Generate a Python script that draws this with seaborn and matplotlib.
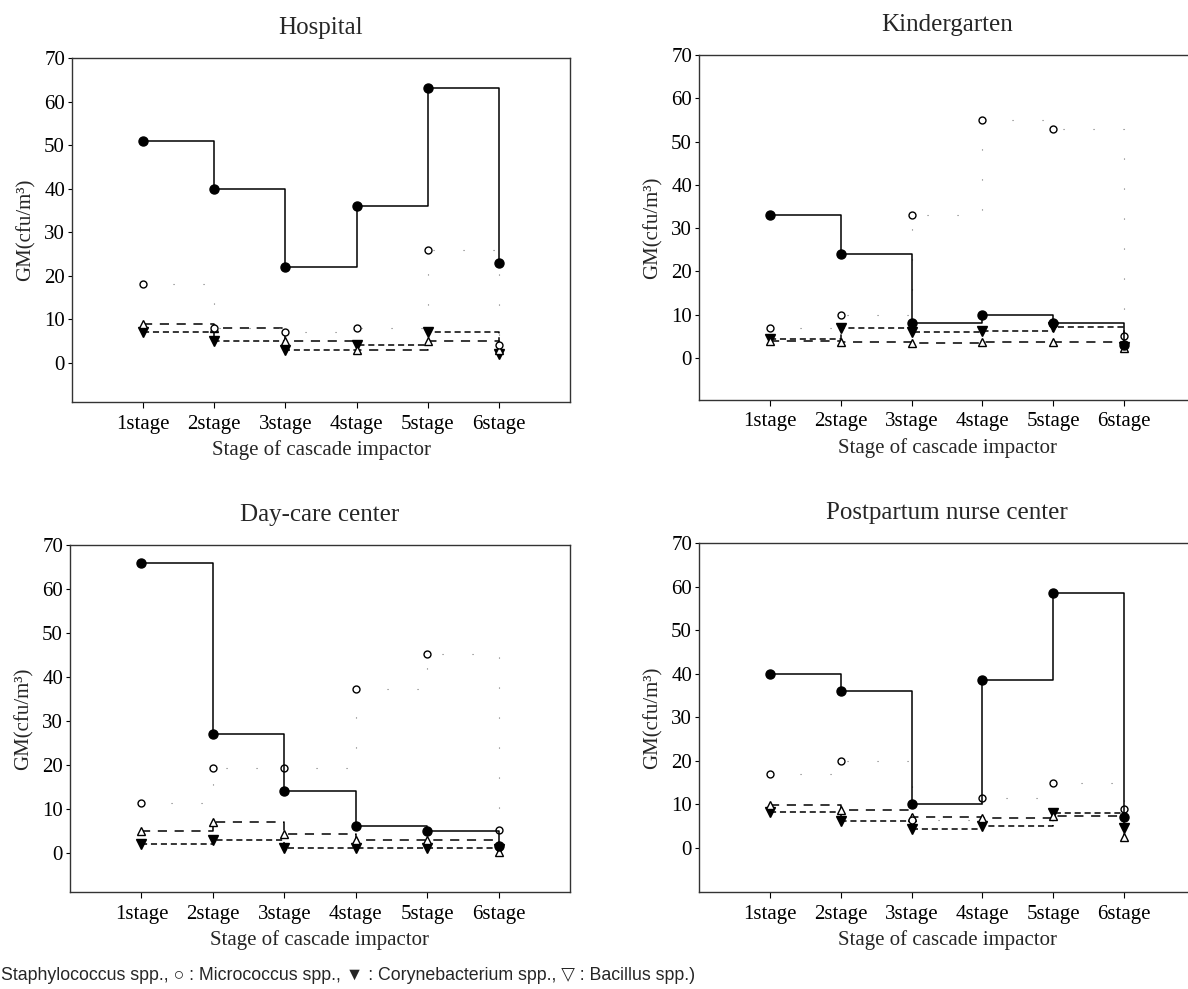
import pandas as pd
import matplotlib
matplotlib.use('Agg')
import matplotlib.pyplot as plt
import seaborn as sns

# stages of the cascade impactor
stages = [1, 2, 3, 4, 5, 6]
stage_labels = ['1stage', '2stage', '3stage', '4stage', '5stage', '6stage']
y_ticks = [0, 10, 20, 30, 40, 50, 60, 70]

panel_titles = ['Hospital', 'Kindergarten', 'Day-care center', 'Postpartum nurse center']
species = ['Staphylococcus', 'Micrococcus', 'Corynebacterium', 'Bacillus']

# GM (cfu/m3)
hospital_staph = [51, 40, 22, 36, 63, 23]
hospital_micro = [18, 8, 7, 8, 26, 4]
hospital_coryn = [7, 5, 3, 4, 7, 2]
hospital_bacil = [9, 8, 5, 3, 5, 3]

kinder_staph = [33, 24, 8, 10, 8, 3]
kinder_micro = [7, 10, 33, 55, 53, 5]
kinder_coryn = [4.4, 7, 6, 6.2, 7.2, 2.5]
kinder_bacil = [4, 3.8, 3.5, 3.8, 3.7, 2.3]

daycare_staph = [66, 27, 14, 6, 5, 1.5]
daycare_micro = [11.4, 19.3, 19.3, 37.3, 45.3, 5.3]
daycare_coryn = [2, 3, 1, 1, 1, 0.8]
daycare_bacil = [5, 7, 4.2, 3, 3, 0.2]

postpartum_staph = [40, 36, 10, 38.5, 58.5, 7]
postpartum_micro = [17, 20, 6.5, 11.5, 15, 9]
postpartum_coryn = [8.3, 6.3, 4.4, 5, 8, 4.5]
postpartum_bacil = [9.9, 8.7, 7.2, 6.8, 7.4, 2.6]

panel_values = [
    [hospital_staph, hospital_micro, hospital_coryn, hospital_bacil],
    [kinder_staph, kinder_micro, kinder_coryn, kinder_bacil],
    [daycare_staph, daycare_micro, daycare_coryn, daycare_bacil],
    [postpartum_staph, postpartum_micro, postpartum_coryn, postpartum_bacil],
]

rows = []
for title, vals in zip(panel_titles, panel_values):
    for sp, v in zip(species, vals):
        for st, g in zip(stages, v):
            rows.append({'site': title, 'species': sp, 'stage': st, 'gm': g})
df = pd.DataFrame(rows)

sns.set_theme(style='ticks')
plt.rcParams['font.family'] = ['Liberation Serif', 'DejaVu Serif']

styles = {
    'Staphylococcus': dict(color='black', marker='o', markersize=6.5, markerfacecolor='black',
                           linestyle='-', linewidth=1.1, zorder=5),
    # the dotted line is barely visible in the scan
    'Micrococcus': dict(color='#777777', marker='o', markersize=5, markerfacecolor='white',
                        dashes=(1, 26), linewidth=0.8, zorder=4),
    'Corynebacterium': dict(color='black', marker='v', markersize=6.5, markerfacecolor='black',
                            dashes=(4, 2.5), linewidth=1.1, zorder=3),
    'Bacillus': dict(color='black', marker='^', markersize=6, markerfacecolor='white',
                     dashes=(6, 5), linewidth=1.1, zorder=3),
}

W, H = 1188, 989
# axes boxes in pixels: left, top, right, bottom
boxes = [(72, 58, 570, 402), (699, 55, 1195, 400),
         (70, 545, 570, 892), (699, 543, 1195, 892)]
y_bottoms = [-9, -9.7, -8.9, -10.1]

fig = plt.figure(figsize=(W / 100, H / 100), dpi=100)

for i, title in enumerate(panel_titles):
    l, t, r, b = boxes[i]
    ax = fig.add_axes([l / W, 1 - b / H, (r - l) / W, (b - t) / H])
    sub = df[df['site'] == title]
    for sp in species:
        d = sub[sub['species'] == sp]
        sns.lineplot(data=d, x='stage', y='gm', ax=ax,
                     drawstyle='steps-post', estimator=None, sort=False,
                     legend=False, markeredgecolor='black',
                     markeredgewidth=1.0, **styles[sp])
    ax.set_xlim(0, 7)
    ax.set_ylim(y_bottoms[i], 70)
    ax.set_xticks(stages)
    ax.set_xticklabels(stage_labels)
    ax.set_yticks(y_ticks)
    ax.tick_params(axis='x', labelsize=15, length=4, width=0.8, pad=5, colors='black')
    ax.tick_params(axis='y', labelsize=15, length=3, width=0.8, pad=2, colors='black')
    ax.set_xlabel('Stage of cascade impactor', fontsize=15, labelpad=5)
    ax.set_ylabel('GM(cfu/m³)', fontsize=15, labelpad=6)
    ax.set_title(title, fontsize=18, pad=17)
    for s in ax.spines.values():
        s.set_color('#333333')
        s.set_linewidth(1.0)
        s.set_visible(True)

fig.text(0.001, 1 - 975 / H,
         'Staphylococcus spp., ○ : Micrococcus spp., ▼ : Corynebacterium spp., ▽ : Bacillus spp.)',
         fontsize=12.8, va='center', ha='left',
         family=['Liberation Sans', 'DejaVu Sans'])

fig.savefig('out.png', dpi=100, facecolor='white')
